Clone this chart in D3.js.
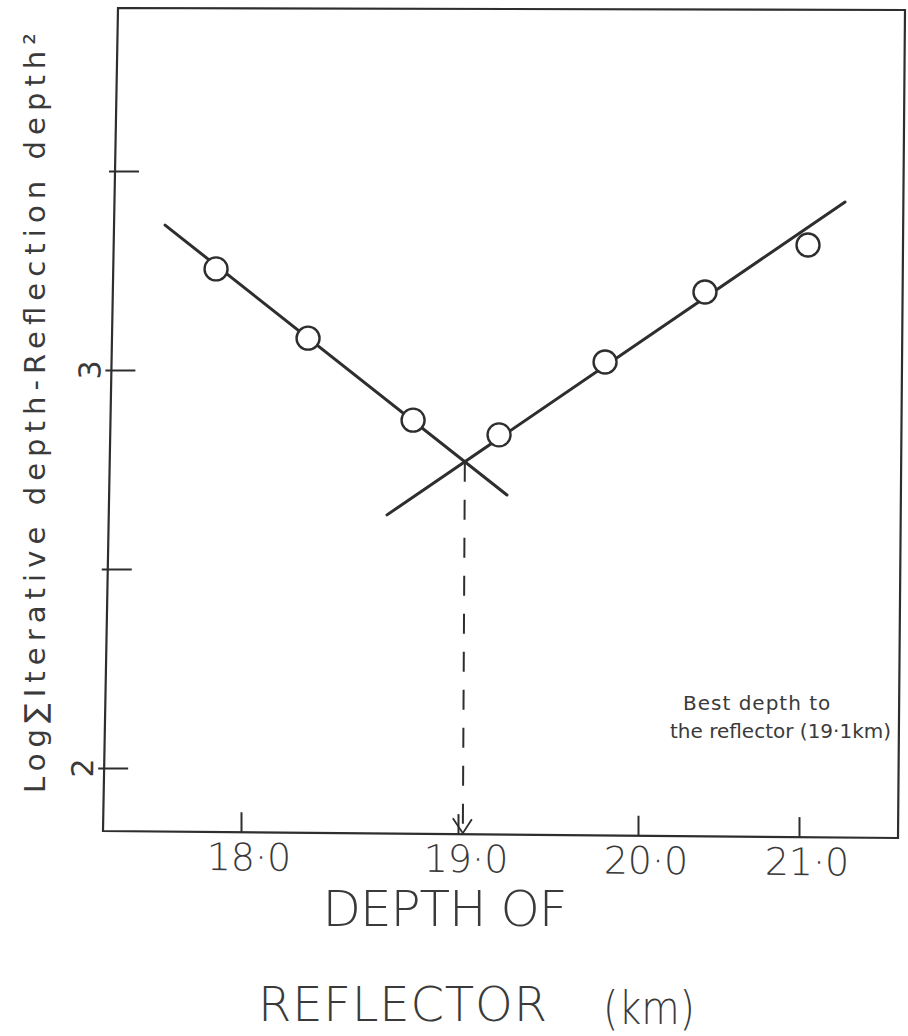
<!DOCTYPE html>
<html>
<head>
<meta charset="utf-8">
<script src="https://cdn.jsdelivr.net/npm/d3@7/dist/d3.min.js"></script>
<style>
body { margin: 0; background: #fff; }
svg { display: block; }
text { font-family: 'DejaVu Sans', sans-serif; fill: #3a3a3a; }
.letter { font-weight: 200; }
</style>
</head>
<body>
<svg></svg>
<script>
// axis ticks
let depthTicks = [18, 19, 20, 21]
let depthTickLabels = ['18·0', '19·0', '20·0', '21·0']
let logTicks = [2, 2.5, 3, 3.5]
let logTickLabels = ['2', '', '3', '']

// measured points, shallow side and deep side
let leftDepth = [17.885, 18.309, 18.793]
let leftValue = [3.254, 3.080, 2.874]
let rightDepth = [19.228, 19.817, 20.416, 21.056]
let rightValue = [2.837, 3.020, 3.196, 3.314]

// the two fitted lines, end to end
let leftFit = [[17.650, 3.364], [19.272, 2.686]]
let rightFit = [[18.673, 2.636], [21.286, 3.422]]

let yTitle = 'Log∑Iterative depth-Reflection depth²'
let xTitle = ['DEPTH OF', 'REFLECTOR', '(km)']
let note = ['Best depth to', 'the reflector (19·1km)']

let width = 908
let height = 1036
let ink = '#2e2e2e'

// hand drawn box, it is not quite square on the page
let corners = {tl: [118, 8], tr: [905, 10], br: [898, 838], bl: [103, 831]}
let leanX = (corners.tl[0] - corners.bl[0]) / (corners.tl[1] - corners.bl[1])
let leanY = (corners.br[1] - corners.bl[1]) / (corners.br[0] - corners.bl[0])
let bottomAt = (x) => corners.bl[1] + leanY * (x - corners.bl[0])

let svg = d3.select('svg')
            .attr('width', width)
            .attr('height', height)

// the depth axis was ruled by hand, so the tick spacing is uneven
let xScale = d3.scaleLinear()
               .domain(depthTicks)
               .range([241, 458, 638, 799])

let yScale = d3.scaleLinear()
               .domain([2, 3])
               .range([768, 370])

let drawFrame = () => {
    svg.append('path')
       .attr('d', d3.line()([corners.tl, corners.tr, corners.br, corners.bl]) + 'Z')
       .attr('fill', 'none')
       .attr('stroke', ink)
       .attr('stroke-width', 2.2)
}

let drawAxes = () => {
    let yAxis = d3.axisLeft(yScale)
                  .tickValues(logTicks)
                  .tickSize(-24)
                  .tickFormat('')
    let yg = svg.append('g')
                .attr('transform', 'translate(' + corners.bl[0] + ',' + corners.bl[1] + ') skewX(' +
                      (Math.atan(leanX) * 180 / Math.PI) + ') translate(0,' + (-corners.bl[1]) + ')')
    yg.call(yAxis)
    yg.select('.domain').remove()
    yg.selectAll('.tick line')
      .attr('x1', -6)
      .attr('stroke', ink)
      .attr('stroke-width', 2)

    yg.selectAll('.ylabel')
      .data(logTicks)
      .enter()
      .append('text')
      .attr('class', 'ylabel')
      .attr('transform', (d) => 'translate(-11,' + yScale(d) + ') rotate(-90)')
      .attr('text-anchor', 'middle')
      .attr('font-size', 30)
      .text((d, i) => logTickLabels[i])

    let xAxis = d3.axisBottom(xScale)
                  .tickValues(depthTicks)
                  .tickSize(-20)
                  .tickFormat('')
    let xg = svg.append('g')
                .attr('transform', 'translate(' + corners.bl[0] + ',' + corners.bl[1] + ') skewY(' +
                      (Math.atan(leanY) * 180 / Math.PI) + ') translate(' + (-corners.bl[0]) + ',0)')
    xg.call(xAxis)
    xg.select('.domain').remove()
    xg.selectAll('.tick line')
      .attr('stroke', ink)
      .attr('stroke-width', 2)

    xg.selectAll('.xlabel')
      .data(depthTicks)
      .enter()
      .append('text')
      .attr('class', 'xlabel letter')
      .attr('x', (d) => xScale(d) + 8)
      .attr('y', 38)
      .attr('text-anchor', 'middle')
      .attr('font-size', 38)
      .text((d, i) => depthTickLabels[i])

    svg.append('text')
       .attr('transform', 'translate(45,413) rotate(-90)')
       .attr('text-anchor', 'middle')
       .attr('font-size', 29)
       .attr('textLength', 760)
       .attr('lengthAdjust', 'spacing')
       .text(yTitle)

    svg.append('text')
       .attr('class', 'letter')
       .attr('x', 445)
       .attr('y', 926)
       .attr('text-anchor', 'middle')
       .attr('font-size', 50)
       .attr('textLength', 245)
       .attr('lengthAdjust', 'spacing')
       .text(xTitle[0])

    svg.append('text')
       .attr('class', 'letter')
       .attr('x', 258)
       .attr('y', 1021)
       .attr('font-size', 48)
       .attr('textLength', 289)
       .attr('lengthAdjust', 'spacing')
       .text(xTitle[1])

    svg.append('text')
       .attr('class', 'letter')
       .attr('x', 603)
       .attr('y', 1024)
       .attr('font-size', 46)
       .attr('textLength', 92)
       .attr('lengthAdjust', 'spacingAndGlyphs')
       .text(xTitle[2])
}

let crossing = (a, b) => {
    let [p1, p2] = a.map((d) => [xScale(d[0]), yScale(d[1])])
    let [p3, p4] = b.map((d) => [xScale(d[0]), yScale(d[1])])
    let den = (p1[0] - p2[0]) * (p3[1] - p4[1]) - (p1[1] - p2[1]) * (p3[0] - p4[0])
    let t = ((p1[0] - p3[0]) * (p3[1] - p4[1]) - (p1[1] - p3[1]) * (p3[0] - p4[0])) / den
    return [p1[0] + t * (p2[0] - p1[0]), p1[1] + t * (p2[1] - p1[1])]
}

let drawLines = () => {
    let line = d3.line()
                 .x((d) => xScale(d[0]))
                 .y((d) => yScale(d[1]))

    svg.selectAll('.fit')
       .data([leftFit, rightFit])
       .enter()
       .append('path')
       .attr('class', 'fit')
       .attr('d', line)
       .attr('fill', 'none')
       .attr('stroke', ink)
       .attr('stroke-width', 3)
       .attr('stroke-linecap', 'round')

    // drop from where the two lines cross down to the depth axis
    let cross = crossing(leftFit, rightFit)
    let foot = bottomAt(cross[0])
    svg.append('line')
       .attr('x1', cross[0])
       .attr('y1', cross[1])
       .attr('x2', cross[0] - 2)
       .attr('y2', foot - 4)
       .attr('stroke', ink)
       .attr('stroke-width', 2)
       .attr('stroke-dasharray', '20,18')

    svg.append('path')
       .attr('d', 'M' + (cross[0] - 12) + ',' + (foot - 16) +
                  'L' + (cross[0] - 2) + ',' + (foot - 1) +
                  'L' + (cross[0] + 7) + ',' + (foot - 15))
       .attr('fill', 'none')
       .attr('stroke', ink)
       .attr('stroke-width', 1.8)
}

let drawPoints = () => {
    let pts = leftDepth.map((d, i) => [d, leftValue[i]])
                       .concat(rightDepth.map((d, i) => [d, rightValue[i]]))
    svg.selectAll('.pt')
       .data(pts)
       .enter()
       .append('circle')
       .attr('class', 'pt')
       .attr('cx', (d) => xScale(d[0]))
       .attr('cy', (d) => yScale(d[1]))
       .attr('r', 11.5)
       .attr('fill', '#fff')
       .attr('stroke', ink)
       .attr('stroke-width', 2.4)
}

let drawNote = () => {
    svg.append('text')
       .attr('x', 683)
       .attr('y', 710)
       .attr('font-size', 20)
       .attr('letter-spacing', 1)
       .text(note[0])

    svg.append('text')
       .attr('x', 670)
       .attr('y', 738)
       .attr('font-size', 20)
       .text(note[1])
}

drawFrame()
drawAxes()
drawLines()
drawPoints()
drawNote()
</script>
</body>
</html>
